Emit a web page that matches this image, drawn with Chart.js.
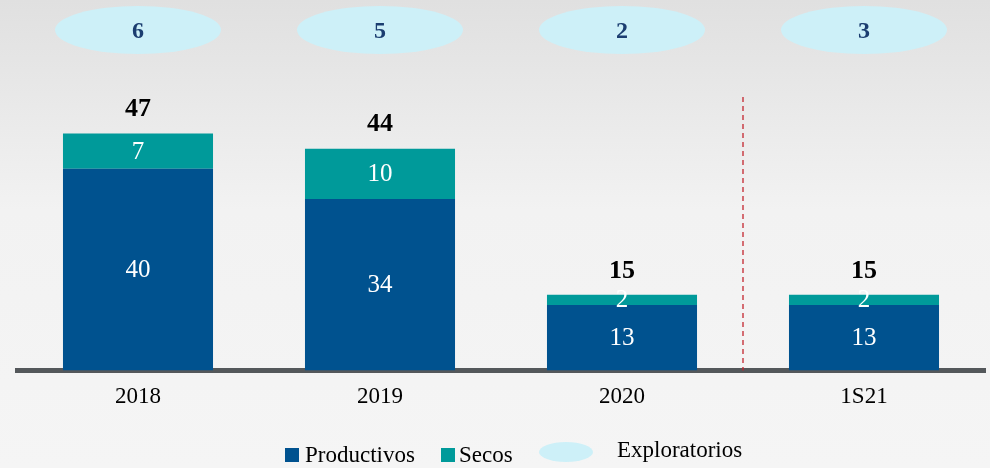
<!DOCTYPE html>
<html>
<head>
<meta charset="utf-8">
<script src="https://cdn.jsdelivr.net/npm/chart.js@4"></script>
<style>
  html, body { margin: 0; padding: 0; }
  body {
    width: 990px; height: 468px; overflow: hidden;
    background: linear-gradient(#e0e0e0 0%, #f2f2f2 45%, #f5f5f5 100%);
  }
  #wrap { position: relative; width: 990px; height: 468px; }
</style>
</head>
<body>
<div id="wrap"><canvas id="grafico"></canvas></div>
<script>
// datos
const categorias = ['2018', '2019', '2020', '1S21'];
const productivos = [40, 34, 13, 13];
const secos = [7, 10, 2, 2];
const exploratorios = [6, 5, 2, 3];

const AZUL = '#00528f';
const VERDE = '#009a9a';
const CELESTE = '#cdf0f8';
const FUENTE = '"Liberation Serif", "DejaVu Serif", serif';

// etiquetas, elipses, línea punteada y leyenda
const extras = {
  id: 'extras',
  afterDatasetsDraw(chart) {
    const ctx = chart.ctx;
    const x = chart.scales.x;
    const area = chart.chartArea;
    ctx.save();

    // valores dentro de las barras
    ctx.textAlign = 'center';
    ctx.textBaseline = 'middle';
    ctx.fillStyle = '#ffffff';
    ctx.font = '25px ' + FUENTE;
    chart.data.datasets.forEach(function (ds, d) {
      chart.getDatasetMeta(d).data.forEach(function (bar, i) {
        ctx.fillText(ds.data[i], bar.x, (bar.y + bar.base) / 2 + 1);
      });
    });

    // totales
    ctx.fillStyle = '#000000';
    ctx.font = 'bold 26px ' + FUENTE;
    const top = chart.getDatasetMeta(1).data;
    categorias.forEach(function (c, i) {
      ctx.fillText(productivos[i] + secos[i], top[i].x, top[i].y - 24);
    });

    // elipses de pozos exploratorios
    exploratorios.forEach(function (v, i) {
      const cx = x.getPixelForValue(i);
      ctx.fillStyle = CELESTE;
      ctx.beginPath();
      ctx.ellipse(cx, 30, 83, 24, 0, 0, Math.PI * 2);
      ctx.fill();
      ctx.fillStyle = '#1b3d70';
      ctx.font = 'bold 24px ' + FUENTE;
      ctx.fillText(v, cx, 32);
    });

    // línea punteada entre 2020 y 1S21
    const xl = (x.getPixelForValue(2) + x.getPixelForValue(3)) / 2;
    ctx.strokeStyle = '#c4262e';
    ctx.lineWidth = 1.3;
    ctx.setLineDash([5, 4]);
    ctx.beginPath();
    ctx.moveTo(xl, 97);
    ctx.lineTo(xl, area.bottom);
    ctx.stroke();
    ctx.setLineDash([]);

    // leyenda
    ctx.textAlign = 'left';
    ctx.font = '23px ' + FUENTE;
    ctx.fillStyle = AZUL;
    ctx.fillRect(285, 448, 14, 14);
    ctx.fillStyle = '#000000';
    ctx.fillText('Productivos', 305, 456);
    ctx.fillStyle = VERDE;
    ctx.fillRect(441, 448, 14, 14);
    ctx.fillStyle = '#000000';
    ctx.fillText('Secos', 459, 456);
    ctx.fillStyle = CELESTE;
    ctx.beginPath();
    ctx.ellipse(566, 452, 27, 10, 0, 0, Math.PI * 2);
    ctx.fill();
    ctx.fillStyle = '#000000';
    ctx.fillText('Exploratorios', 617, 451);

    ctx.restore();
  }
};

new Chart(document.getElementById('grafico'), {
  type: 'bar',
  data: {
    labels: categorias,
    datasets: [
      { label: 'Productivos', data: productivos, backgroundColor: AZUL },
      { label: 'Secos', data: secos, backgroundColor: VERDE }
    ]
  },
  options: {
    responsive: true,
    maintainAspectRatio: false,
    animation: false,
    layout: { padding: { left: 17, right: 5, top: 68, bottom: 52 } },
    datasets: { bar: { barPercentage: 0.62, categoryPercentage: 1 } },
    plugins: {
      legend: { display: false },
      tooltip: { enabled: false }
    },
    scales: {
      x: {
        stacked: true,
        grid: { display: false },
        border: { display: true, color: '#54585b', width: 5 },
        ticks: { color: '#000000', padding: 5, font: { family: FUENTE, size: 23 } }
      },
      y: {
        stacked: true,
        display: false,
        min: 0,
        max: 60
      }
    }
  },
  plugins: [extras]
});
</script>
</body>
</html>
